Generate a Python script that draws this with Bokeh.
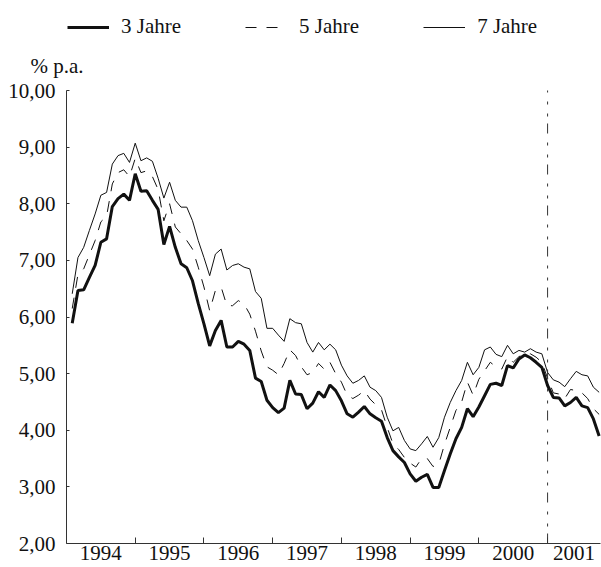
from bokeh.plotting import figure
from bokeh.models import Range1d, FixedTicker, Legend, LegendItem, Label
from bokeh.embed import file_html
from bokeh.resources import INLINE

# ---- data (monthly, Jan 1994 .. Sep 2001), % p.a.
months = list(range(1, 94))  # month index after 1 Jan 1994

yield_3 = [5.89, 6.47, 6.48, 6.70, 6.91, 7.32, 7.38, 7.95, 8.09, 8.17,
           8.06, 8.53, 8.22, 8.23, 8.06, 7.90, 7.28, 7.60, 7.23, 6.94,
           6.87, 6.64, 6.24, 5.88, 5.49, 5.76, 5.94, 5.47, 5.47, 5.57,
           5.52, 5.41, 4.92, 4.86, 4.53, 4.40, 4.31, 4.39, 4.88, 4.64,
           4.63, 4.38, 4.48, 4.68, 4.58, 4.80, 4.70, 4.52, 4.29, 4.23,
           4.32, 4.42, 4.29, 4.22, 4.16, 3.87, 3.64, 3.53, 3.43, 3.23,
           3.10, 3.17, 3.22, 2.99, 2.99, 3.29, 3.58, 3.85, 4.05, 4.38,
           4.24, 4.41, 4.61, 4.81, 4.83, 4.79, 5.14, 5.10, 5.26, 5.33,
           5.28, 5.20, 5.11, 4.79, 4.58, 4.57, 4.43, 4.49, 4.58, 4.43,
           4.40, 4.20, 3.90]

yield_5 = [6.15, 6.75, 6.85, 7.10, 7.35, 7.68, 7.78, 8.35, 8.55, 8.60,
           8.48, 8.80, 8.55, 8.58, 8.48, 8.25, 7.70, 8.00, 7.59, 7.47,
           7.35, 7.20, 6.88, 6.53, 6.11, 6.47, 6.53, 6.20, 6.20, 6.29,
           6.23, 6.05, 5.75, 5.40, 5.12, 5.06, 4.98, 5.18, 5.42, 5.32,
           5.12, 4.98, 5.02, 5.18, 5.08, 5.20, 5.00, 4.85, 4.62, 4.56,
           4.62, 4.70, 4.55, 4.45, 4.36, 4.05, 3.76, 3.66, 3.52, 3.42,
           3.35, 3.50, 3.50, 3.36, 3.40, 3.75, 4.05, 4.35, 4.50, 4.85,
           4.62, 4.90, 5.05, 5.20, 5.12, 5.08, 5.30, 5.20, 5.30, 5.35,
           5.35, 5.29, 5.20, 4.92, 4.66, 4.64, 4.56, 4.72, 4.70, 4.66,
           4.56, 4.38, 4.28]

yield_7 = [6.41, 7.05, 7.23, 7.53, 7.82, 8.15, 8.20, 8.70, 8.85, 8.89,
           8.73, 9.07, 8.76, 8.81, 8.75, 8.45, 8.10, 8.38, 8.06, 7.94,
           7.94, 7.70, 7.35, 7.05, 6.73, 7.11, 7.20, 6.83, 6.91, 6.94,
           6.88, 6.85, 6.45, 6.33, 5.80, 5.80, 5.68, 5.57, 5.97, 5.90,
           5.88, 5.55, 5.38, 5.55, 5.42, 5.52, 5.42, 5.15, 4.96, 4.83,
           4.88, 4.96, 4.76, 4.70, 4.58, 4.23, 3.99, 4.05, 3.82, 3.67,
           3.64, 3.76, 3.89, 3.70, 3.87, 4.23, 4.49, 4.70, 4.88, 5.20,
           4.98, 5.11, 5.42, 5.47, 5.34, 5.30, 5.50, 5.35, 5.41, 5.38,
           5.44, 5.38, 5.35, 5.02, 4.89, 4.85, 4.77, 4.91, 5.04, 4.98,
           4.96, 4.76, 4.67]

years = [1994, 1995, 1996, 1997, 1998, 1999, 2000, 2001]
year_labels = ["1994", "1995", "1996", "1997", "1998", "1999", "2000", "2001"]
y_ticks = [2, 3, 4, 5, 6, 7, 8, 9, 10]
y_tick_labels = ["2,00", "3,00", "4,00", "5,00", "6,00", "7,00", "8,00", "9,00", "10,00"]
series_names = ["3 Jahre", "5 Jahre", "7 Jahre"]
unit_label = "% p.a."
marker_year = 2001
x_start, x_end = 1994.0, 2001.77

FONT = "Liberation Serif"
FS = "21px"
INK = "#111111"
AXIS = "#333333"

# canvas geometry (pixels): the plotting area proper spans these pixels
W, H = 601, 567
AX_LEFT, AX_RIGHT, AX_TOP, AX_BOTTOM = 66, 600, 90, 543

y_lo, y_hi = y_ticks[0], y_ticks[-1]
px_per_x = (AX_RIGHT - AX_LEFT) / (x_end - x_start)
px_per_y = (AX_BOTTOM - AX_TOP) / (y_hi - y_lo)
# the frame fills the whole canvas; axes are pinned inside it
xr = Range1d(x_start - AX_LEFT / px_per_x, x_end + (W - AX_RIGHT) / px_per_x)
yr = Range1d(y_lo - (H - AX_BOTTOM) / px_per_y, y_hi + AX_TOP / px_per_y)

x = [x_start + m / 12.0 for m in months]

p = figure(width=W, height=H, output_backend="svg", toolbar_location=None,
           x_range=xr, y_range=yr,
           min_border_left=0, min_border_right=0, min_border_top=0,
           min_border_bottom=0, title_location=None)
p.outline_line_color = None
p.xgrid.visible = False
p.ygrid.visible = False
p.background_fill_color = "white"
p.border_fill_color = "white"

r3 = p.line(x, yield_3, line_color=INK, line_width=3)
r5 = p.line(x, yield_5, line_color=INK, line_width=1, line_dash="11 10")
r7 = p.line(x, yield_7, line_color=INK, line_width=1)

# x axis: labels centred within each year, ticks at year boundaries
label_pos = [(y + min(y + 1, x_end)) / 2.0 for y in years]
xa = p.xaxis[0]
xa.fixed_location = y_lo
xa.bounds = (x_start, x_end)
xa.ticker = FixedTicker(ticks=label_pos, minor_ticks=years[1:])
xa.major_label_overrides = {pos: lab for pos, lab in zip(label_pos, year_labels)}
xa.major_tick_in = 0
xa.major_tick_out = 0
xa.minor_tick_in = 6
xa.minor_tick_out = 0
xa.minor_tick_line_color = AXIS
xa.axis_line_color = AXIS
xa.major_label_text_font = FONT
xa.major_label_text_font_size = FS
xa.major_label_text_color = INK
xa.major_label_standoff = 2

ya = p.yaxis[0]
ya.fixed_location = x_start
ya.bounds = (y_lo, y_hi)
ya.ticker = FixedTicker(ticks=y_ticks, minor_ticks=[])
ya.major_label_overrides = {t: l for t, l in zip(y_ticks, y_tick_labels)}
ya.major_tick_in = 3
ya.major_tick_out = 0
ya.major_tick_line_color = AXIS
ya.axis_line_color = AXIS
ya.major_label_text_font = FONT
ya.major_label_text_font_size = FS
ya.major_label_text_color = INK
ya.major_label_standoff = 11

# dash-dot marker at the start of 2001, spanning the value axis
p.segment(x0=[marker_year], y0=[y_lo], x1=[marker_year], y1=[y_hi],
          line_color=AXIS, line_width=1, line_dash="10 7 3 9 3 9")

p.add_layout(Label(x=30, y=H - 65, x_units="screen", y_units="screen",
                   text=unit_label, text_font=FONT, text_font_size=FS,
                   text_font_style="normal",
                   text_color=INK, text_baseline="middle"))

p.add_layout(Legend(items=[LegendItem(label=n, renderers=[r])
                           for n, r in zip(series_names, [r3, r5, r7])],
                    location=(67, H - 39), orientation="horizontal",
                    glyph_width=42, glyph_height=20, label_height=20,
                    label_standoff=12, spacing=64, padding=0, margin=0,
                    border_line_color=None, background_fill_alpha=0,
                    label_text_font=FONT, label_text_font_size=FS,
                    label_text_font_style="normal",
                    label_text_color=INK))

open("out.html", "w").write(file_html(p, INLINE))
